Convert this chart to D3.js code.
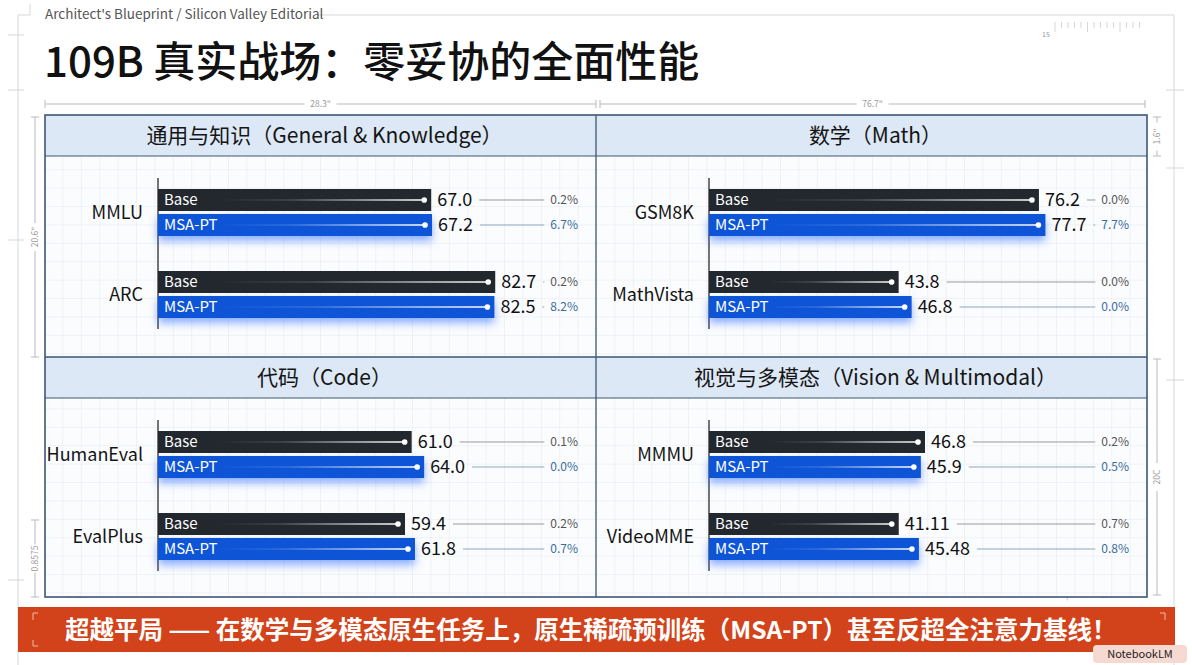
<!DOCTYPE html>
<html><head><meta charset="utf-8">
<script src="https://cdn.jsdelivr.net/npm/d3@7"></script>
<style>
html,body{margin:0;padding:0;background:#fff;}
svg{display:block;font-family:"Noto Sans CJK SC","Noto Sans",sans-serif;}
</style></head>
<body>
<svg id="chart" width="1192" height="665"></svg>
<script>
// ---------- data ----------
const panelTitles = ["通用与知识（General & Knowledge）", "数学（Math）", "代码（Code）", "视觉与多模态（Vision & Multimodal）"];
const benchmarks = [["MMLU", "ARC"], ["GSM8K", "MathVista"], ["HumanEval", "EvalPlus"], ["MMMU", "VideoMME"]];
const series = ["Base", "MSA-PT"];
const baseScores = [[67.0, 82.7], [76.2, 43.8], [61.0, 59.4], [46.8, 41.11]];
const msaScores = [[67.2, 82.5], [77.7, 46.8], [64.0, 61.8], [45.9, 45.48]];
const baseLabels = [["67.0", "82.7"], ["76.2", "43.8"], ["61.0", "59.4"], ["46.8", "41.11"]];
const msaLabels = [["67.2", "82.5"], ["77.7", "46.8"], ["64.0", "61.8"], ["45.9", "45.48"]];
const basePct = [["0.2%", "0.2%"], ["0.0%", "0.0%"], ["0.1%", "0.2%"], ["0.2%", "0.7%"]];
const msaPct = [["6.7%", "8.2%"], ["7.7%", "0.0%"], ["0.0%", "0.7%"], ["0.5%", "0.8%"]];
const axisMax = [103, 97, 101, 91];
const subtitle = "Architect's Blueprint / Silicon Valley Editorial";
const title = "109B 真实战场：零妥协的全面性能";
const banner = "超越平局 —— 在数学与多模态原生任务上，原生稀疏预训练（MSA-PT）甚至反超全注意力基线！";

// ---------- layout ----------
const svg = d3.select("#chart");
const box = {x0: 45, x1: 1147, xm: 596, y0: 115, ym: 357, y1: 597};
const headerH = 41;
const colors = {base: "#23272e", msa: "#1155d6", border: "#3e5675", header: "#dce8f6", grid: "#e1e7ee", dim: "#b5b9be"};

const defs = svg.append("defs");
const pat = defs.append("pattern").attr("id", "grid").attr("patternUnits", "userSpaceOnUse")
  .attr("width", 18.4).attr("height", 18.4).attr("x", box.x0).attr("y", box.y0);
pat.append("path").attr("d", "M18.4 0 V18.4 M0 18.4 H18.4").attr("stroke", colors.grid).attr("stroke-width", 1).attr("fill", "none");

const glow = defs.append("filter").attr("id", "glow").attr("x", "-10%").attr("y", "-50%").attr("width", "120%").attr("height", "250%");
glow.append("feGaussianBlur").attr("in", "SourceAlpha").attr("stdDeviation", 4).attr("result", "b");
glow.append("feOffset").attr("in", "b").attr("dy", 5).attr("result", "o");
glow.append("feFlood").attr("flood-color", "#2f6dff").attr("flood-opacity", 0.55);
glow.append("feComposite").attr("in2", "o").attr("operator", "in").attr("result", "s");
const fm = glow.append("feMerge");
fm.append("feMergeNode").attr("in", "s");
fm.append("feMergeNode").attr("in", "SourceGraphic");

const hl = defs.append("linearGradient").attr("id", "hl").attr("x1", 0).attr("x2", 1).attr("y1", 0).attr("y2", 0);
hl.append("stop").attr("offset", "0%").attr("stop-color", "#fff").attr("stop-opacity", 0);
hl.append("stop").attr("offset", "35%").attr("stop-color", "#fff").attr("stop-opacity", 0.15);
hl.append("stop").attr("offset", "100%").attr("stop-color", "#fff").attr("stop-opacity", 0.95);

// frame lines
const frame = svg.append("g").attr("stroke", "#d4d7db").attr("fill", "none");
frame.append("line").attr("x1", 318).attr("x2", 1174).attr("y1", 15).attr("y2", 15);
frame.append("line").attr("x1", 18).attr("x2", 18).attr("y1", 15).attr("y2", 665);
frame.append("line").attr("x1", 1174).attr("x2", 1174).attr("y1", 15).attr("y2", 665);
frame.append("path").attr("d", "M18 15 H30 V4");
[35, 90, 240, 580].forEach(y => frame.append("line").attr("x1", 8).attr("x2", 24).attr("y1", y).attr("y2", y));
[90, 168, 380].forEach(y => frame.append("line").attr("x1", 1166).attr("x2", 1184).attr("y1", y).attr("y2", y));
for (let i = 0; i < 14; i++) {
  frame.append("line").attr("x1", 1055 + i * 6.5).attr("x2", 1055 + i * 6.5).attr("y1", 22).attr("y2", i % 5 === 0 ? 32 : 28);
}
svg.append("text").attr("x", 1042).attr("y", 37).attr("font-size", 7).attr("fill", "#999").text("15");

// subtitle & title
svg.append("text").attr("x", 45).attr("y", 19).attr("font-size", 13.5).attr("fill", "#555").text(subtitle);
svg.append("text").attr("x", 44).attr("y", 77).attr("font-size", 42).attr("font-weight", 500).attr("fill", "#111").text(title);

// dimension annotations
const dim = svg.append("g").attr("stroke", colors.dim).attr("fill", "none").attr("stroke-width", 1);
function hDim(x1, x2, y, label) {
  const cx = (x1 + x2) / 2;
  dim.append("line").attr("x1", x1).attr("x2", cx - 16).attr("y1", y).attr("y2", y);
  dim.append("line").attr("x1", cx + 16).attr("x2", x2).attr("y1", y).attr("y2", y);
  dim.append("line").attr("x1", x1).attr("x2", x1).attr("y1", y - 4).attr("y2", y + 4);
  dim.append("line").attr("x1", x2).attr("x2", x2).attr("y1", y - 4).attr("y2", y + 4);
  svg.append("text").attr("x", cx).attr("y", y + 3).attr("text-anchor", "middle").attr("font-size", 8.5).attr("fill", "#999").text(label);
}
function vDim(x, y1, y2, label) {
  const cy = (y1 + y2) / 2;
  dim.append("line").attr("x1", x).attr("x2", x).attr("y1", y1).attr("y2", cy - 14);
  dim.append("line").attr("x1", x).attr("x2", x).attr("y1", cy + 14).attr("y2", y2);
  dim.append("line").attr("x1", x - 4).attr("x2", x + 4).attr("y1", y1).attr("y2", y1);
  dim.append("line").attr("x1", x - 4).attr("x2", x + 4).attr("y1", y2).attr("y2", y2);
  svg.append("text").attr("transform", `translate(${x + 3},${cy}) rotate(-90)`).attr("text-anchor", "middle")
    .attr("font-size", 8.5).attr("fill", "#999").text(label);
}
hDim(45, 596, 104, "28.3\"");
hDim(600, 1145, 104, "76.7\"");
vDim(35, 117, 357, "20.6\"");
vDim(1157, 117, 156, "1.6\"");
vDim(1157, 359, 595, "20C");
vDim(35, 520, 597, "0.8575");
svg.append("text").attr("x", 56).attr("y", 598).attr("font-size", 8.5).attr("fill", "#aaa").text("⊢ 0.028   ⊣");
svg.append("text").attr("x", 1066).attr("y", 598).attr("font-size", 8.5).attr("fill", "#aaa").text("|⊢ ——— 2.7\" —⊣");

// box background with grid
svg.append("rect").attr("x", box.x0).attr("y", box.y0).attr("width", box.x1 - box.x0).attr("height", box.y1 - box.y0).attr("fill", "#fbfcfe");
[box.y0, box.ym].forEach(y => svg.append("rect").attr("x", box.x0).attr("y", y).attr("width", box.x1 - box.x0).attr("height", headerH).attr("fill", colors.header));
svg.append("rect").attr("x", box.x0).attr("y", box.y0).attr("width", box.x1 - box.x0).attr("height", box.y1 - box.y0).attr("fill", "url(#grid)").attr("opacity", 0.95);

// borders
const bd = svg.append("g").attr("stroke", colors.border).attr("fill", "none");
bd.append("rect").attr("x", box.x0).attr("y", box.y0).attr("width", box.x1 - box.x0).attr("height", box.y1 - box.y0).attr("stroke-width", 1.6);
bd.append("line").attr("x1", box.xm).attr("x2", box.xm).attr("y1", box.y0).attr("y2", box.y1).attr("stroke-width", 1.3);
bd.append("line").attr("x1", box.x0).attr("x2", box.x1).attr("y1", box.ym).attr("y2", box.ym).attr("stroke-width", 1.6);
[box.y0 + headerH, box.ym + headerH].forEach(y => bd.append("line").attr("x1", box.x0).attr("x2", box.x1).attr("y1", y).attr("y2", y).attr("stroke-width", 1.2));

// panels
panelTitles.forEach((pt, i) => {
  const col = i % 2, row = Math.floor(i / 2);
  const px0 = col === 0 ? box.x0 : box.xm;
  const px1 = col === 0 ? box.xm : box.x1;
  const py0 = row === 0 ? box.y0 : box.ym;
  const bodyTop = py0 + headerH;
  const axisX = px0 + 113;
  const g = svg.append("g");

  g.append("text").attr("x", (px0 + px1) / 2 + 4).attr("y", py0 + headerH / 2).attr("dy", "0.36em")
    .attr("text-anchor", "middle").attr("font-size", 21).attr("fill", "#151515").text(pt);

  const x = d3.scaleLinear().domain([0, axisMax[i]]).range([axisX, axisX + 420]);
  const y0 = d3.scaleBand().domain(benchmarks[i]).range([bodyTop + 33, bodyTop + 162]).paddingInner(0.427);
  const y1 = d3.scaleBand().domain(series).range([0, y0.bandwidth()]).paddingInner(0.12);

  g.append("line").attr("x1", axisX).attr("x2", axisX).attr("y1", bodyTop + 22).attr("y2", bodyTop + 173)
    .attr("stroke", "#2a2a2a").attr("stroke-width", 1.3);

  const rows = [];
  benchmarks[i].forEach((b, j) => {
    rows.push({b, s: "Base", v: baseScores[i][j], lab: baseLabels[i][j], pct: basePct[i][j]});
    rows.push({b, s: "MSA-PT", v: msaScores[i][j], lab: msaLabels[i][j], pct: msaPct[i][j]});
  });

  benchmarks[i].forEach(b => {
    g.append("text").attr("x", axisX - 15).attr("y", y0(b) + y0.bandwidth() / 2).attr("dy", "0.36em")
      .attr("text-anchor", "end").attr("font-size", 18).attr("fill", "#151515").text(b);
  });

  rows.forEach(r => {
    const yy = y0(r.b) + y1(r.s), h = y1.bandwidth(), xe = x(r.v), cy = yy + h / 2;
    const isMsa = r.s === "MSA-PT";
    g.append("rect").attr("x", x(0)).attr("y", yy).attr("width", xe - x(0)).attr("height", h)
      .attr("fill", isMsa ? colors.msa : colors.base).attr("filter", isMsa ? "url(#glow)" : null);
    g.append("rect").attr("x", x(0) + 60).attr("y", cy - 0.8).attr("width", xe - x(0) - 66).attr("height", 1.6).attr("fill", "url(#hl)");
    g.append("circle").attr("cx", xe - 7).attr("cy", cy).attr("r", 2.8).attr("fill", "#fff");
    g.append("text").attr("x", x(0) + 6).attr("y", cy).attr("dy", "0.36em").attr("font-size", 15).attr("fill", "#fff").text(r.s);
    const vt = g.append("text").attr("x", xe + 6).attr("y", cy).attr("dy", "0.36em").attr("font-size", 18).attr("fill", "#111").text(r.lab);
    const pctX = px1 - 18;
    const pt2 = g.append("text").attr("x", pctX).attr("y", cy).attr("dy", "0.36em").attr("text-anchor", "end")
      .attr("font-size", 12).attr("fill", isMsa ? "#3a6c9c" : "#555").text(r.pct);
    const ve = xe + 6 + vt.node().getComputedTextLength() + 7;
    const ps = pctX - pt2.node().getComputedTextLength() - 6;
    g.append("line").attr("x1", ve).attr("x2", ps).attr("y1", cy).attr("y2", cy)
      .attr("stroke", isMsa ? "#8ea6bf" : "#9a9a9a").attr("stroke-width", 1);
  });
});

// banner
svg.append("rect").attr("x", 18).attr("y", 607).attr("width", 1157).attr("height", 45).attr("fill", "#d3431b");
const bc = svg.append("g").attr("stroke", "#f3b9a4").attr("fill", "none").attr("stroke-width", 1);
bc.append("path").attr("d", "M33 620 V613 H38");
bc.append("path").attr("d", "M33 640 V646 H38");
bc.append("path").attr("d", "M1160 613 H1165 V620");
svg.append("text").attr("x", 65).attr("y", 630).attr("dy", "0.36em").attr("font-size", 24.5).attr("font-weight", 700)
  .attr("fill", "#fff").text(banner);

// badge
svg.append("rect").attr("x", 1093).attr("y", 645).attr("width", 94).attr("height", 18).attr("rx", 4).attr("fill", "#f6d9d0");
svg.append("text").attr("x", 1140).attr("y", 654).attr("dy", "0.36em").attr("text-anchor", "middle").attr("font-size", 11).attr("fill", "#222").text("NotebookLM");
</script>
</body></html>
